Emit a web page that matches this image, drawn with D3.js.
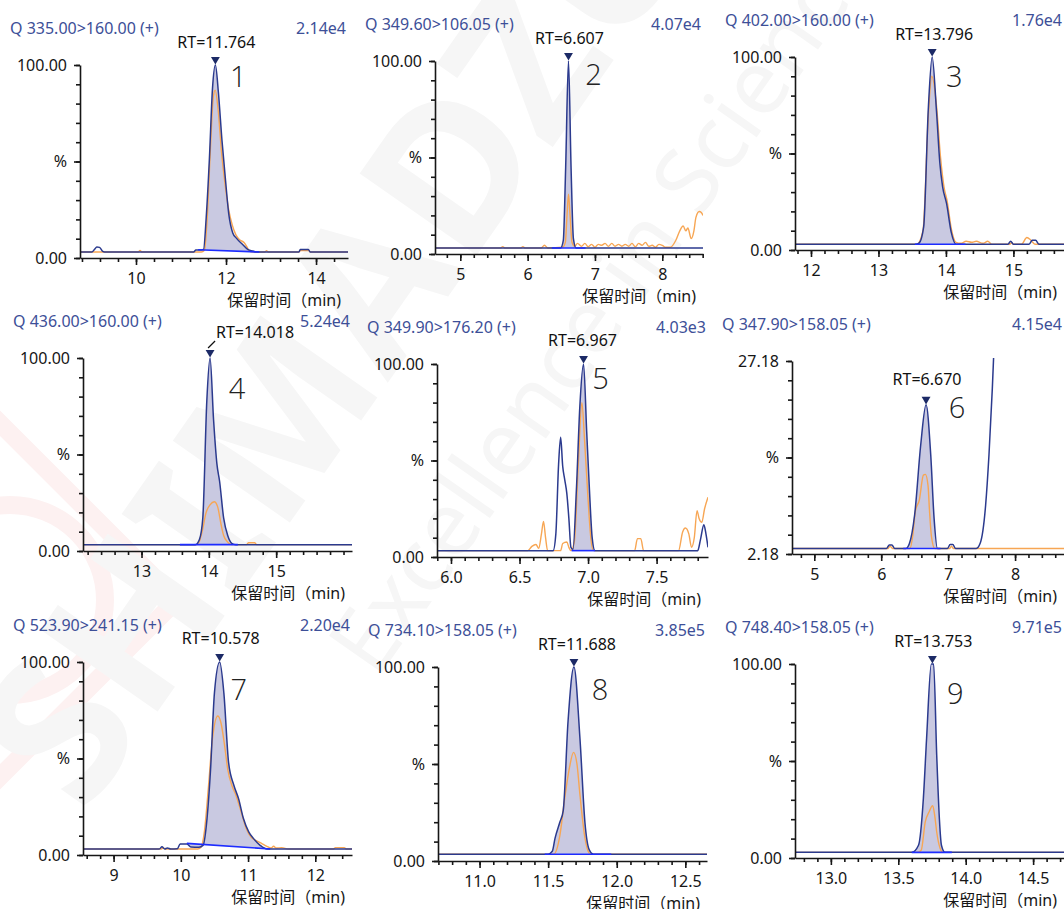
<!DOCTYPE html>
<html>
<head>
<meta charset="utf-8">
<script src="https://cdn.jsdelivr.net/npm/d3@7"></script>
<style>
  body { margin: 0; background: #fff; }
  svg { display: block; }
</style>
</head>
<body>
<svg id="chart" width="1064" height="909"></svg>
<script>
// MRM transitions, one chromatogram per compound
const transitions = [
  "Q 335.00>160.00 (+)", "Q 349.60>106.05 (+)", "Q 402.00>160.00 (+)",
  "Q 436.00>160.00 (+)", "Q 349.90>176.20 (+)", "Q 347.90>158.05 (+)",
  "Q 523.90>241.15 (+)", "Q 734.10>158.05 (+)", "Q 748.40>158.05 (+)"
];
const intensityScales = ["2.14e4", "4.07e4", "1.76e4", "5.24e4", "4.03e3", "4.15e4", "2.20e4", "3.85e5", "9.71e5"];
const retentionTimes = [11.764, 6.607, 13.796, 14.018, 6.967, 6.670, 10.578, 11.688, 13.753];
const peakNumbers = ["1", "2", "3", "4", "5", "6", "7", "8", "9"];

// retention-time window shown on each x axis (min)
const timeRanges = [
  [8.756, 14.71], [4.624, 8.605], [11.763, 15.75],
  [12.131, 16.126], [5.898, 7.875], [4.667, 8.731],
  [8.545, 12.546], [10.697, 12.658], [12.734, 14.729]
];
const timeTicks = [
  [10, 12, 14], [5, 6, 7, 8], [12, 13, 14, 15],
  [13, 14, 15], [6.0, 6.5, 7.0, 7.5], [5, 6, 7, 8],
  [9, 10, 11, 12], [11.0, 11.5, 12.0, 12.5], [13.0, 13.5, 14.0, 14.5]
];
const tickDecimals = [0, 0, 0, 0, 1, 0, 0, 1, 1];
const minorTickSteps = [0.4, 0.2, 0.2, 0.2, 0.1, 0.2, 0.2, 0.1, 0.1];
// relative intensity range of each y axis (%)
const percentRanges = [
  [0, 100], [0, 100], [0, 100],
  [0, 100], [0, 100], [2.18, 27.18],
  [0, 100], [0, 100], [0, 100]
];

// quantifier ion traces: [time (min), relative intensity (%)]
const quantTraces = [
  [[8.756,3.1],[9.02,3.1],[9.08,4.5],[9.13,5.7],[9.19,5.5],[9.26,3.4],[9.3,3.1],[11.28,3.1],[11.33,4.1],[11.45,4.2],[11.5,4.4],[11.56,21],[11.63,51],[11.7,88],[11.764,100],[11.83,86],[11.91,61],[11.99,40],[12.06,23],[12.15,13],[12.23,10.3],[12.37,7],[12.49,4.3],[12.6,3.6],[12.67,3.1],[13.62,3.1],[13.65,4.4],[13.83,4.4],[13.87,3.1],[14.71,3.1]],
  [[4.624,3.1],[6.49,3.1],[6.53,7],[6.565,45],[6.607,100],[6.645,45],[6.68,8],[6.72,3.1],[8.605,3.1]],
  [[11.763,3],[13.55,3],[13.6,3.5],[13.67,12],[13.74,74],[13.796,100],[13.86,72],[13.91,45],[13.95,33],[14.01,24],[14.08,9],[14.15,3],[14.92,3],[14.96,4.5],[15.0,3],[15.23,3],[15.28,5],[15.33,5],[15.38,3],[15.75,3]],
  [[12.131,3.3],[13.8,3.3],[13.86,6],[13.91,17],[13.97,78],[14.018,100],[14.07,68],[14.12,45],[14.16,36],[14.22,17],[14.28,8],[14.34,4],[14.4,3.3],[16.126,3.3]],
  [[5.898,3.3],[6.745,3.3],[6.765,12],[6.785,48],[6.8,62],[6.815,47],[6.83,40],[6.845,33],[6.86,20],[6.875,5],[6.89,4],[6.915,35],[6.94,78],[6.967,100],[6.99,65],[7.01,35],[7.03,10],[7.05,3.3],[7.8,3.3],[7.82,9],[7.845,16.7],[7.86,12],[7.875,5]],
  [[4.667,2.9],[6.08,2.9],[6.12,3.35],[6.16,3.35],[6.2,2.9],[6.37,2.9],[6.42,3.5],[6.5,7.3],[6.59,16.3],[6.67,21.5],[6.74,15],[6.79,6.8],[6.84,2.9],[6.99,2.9],[7.03,3.4],[7.07,3.4],[7.11,2.9],[7.42,2.9],[7.48,3.6],[7.56,8.5],[7.61,15],[7.66,23.6],[7.7,32],[7.75,45],[7.85,70],[8.2,100],[8.731,80]],
  [[8.545,3.1],[9.68,3.1],[9.72,4.3],[9.76,3.1],[9.8,3.6],[9.85,3.1],[9.95,3.3],[9.99,5.7],[10.09,5.7],[10.15,4.2],[10.27,4],[10.33,5],[10.39,19],[10.44,43],[10.5,84],[10.578,100],[10.64,84],[10.71,48],[10.79,36],[10.86,29],[10.93,19],[11.01,12],[11.08,8.6],[11.18,5],[11.28,3.1],[12.546,3.1]],
  [[10.697,3.5],[11.5,3.5],[11.53,5],[11.55,11.7],[11.585,20],[11.61,26],[11.645,72],[11.688,100],[11.732,63],[11.768,20],[11.8,5.7],[11.83,3.5],[12.658,3.5]],
  [[12.734,2.9],[13.6,2.9],[13.65,6.6],[13.686,30.7],[13.71,61.7],[13.745,100],[13.762,100],[13.785,53],[13.805,20],[13.82,6.6],[13.847,2.9],[14.729,2.9]]
];

// qualifier ion traces: [time (min), relative intensity (%)]
const qualTraces = [
  [[8.756,3.1],[10.05,3.1],[10.09,3.9],[10.13,3.1],[11.45,3.1],[11.52,4],[11.58,20],[11.65,55],[11.72,84],[11.76,87],[11.82,78],[11.9,55],[11.98,38],[12.06,25],[12.14,17],[12.22,12],[12.3,9.5],[12.4,8],[12.47,5.5],[12.52,3.6],[12.6,3.1],[12.86,3.1],[12.9,3.8],[12.94,3.1],[13.62,3.1],[13.65,3.8],[13.84,3.8],[13.87,3.1],[14.71,3.1]],
  [[4.624,3.1],[5.6,3.1],[5.63,3.8],[5.66,3.1],[5.9,3.1],[5.93,3.8],[5.96,3.1],[6.2,3.1],[6.25,4.5],[6.3,3.1],[6.52,3.5],[6.56,6],[6.585,20],[6.607,31],[6.63,20],[6.66,6],[6.7,4],[6.74,5.5],[6.8,4],[6.85,5.5],[6.9,3.8],[6.95,5],[7.0,3.5],[7.05,5],[7.1,4.5],[7.15,5.5],[7.2,4],[7.25,5.5],[7.3,4],[7.35,5],[7.4,4],[7.45,5],[7.5,4],[7.55,5.5],[7.6,3.8],[7.65,5.5],[7.7,4.5],[7.75,6],[7.8,4],[7.85,4.5],[7.9,3.5],[7.95,5],[8.0,4.5],[8.05,3.5],[8.12,3.5],[8.2,7],[8.26,12],[8.31,14.5],[8.35,12],[8.38,13.5],[8.43,8],[8.47,12],[8.5,19],[8.55,22],[8.58,21.5],[8.605,20]],
  [[11.763,3],[13.57,3],[13.66,10],[13.74,70],[13.79,90],[13.86,75],[13.92,48],[13.97,33],[14.02,25],[14.08,11],[14.15,4],[14.22,3.5],[14.3,4.5],[14.38,4],[14.45,4.5],[14.55,3.5],[14.62,4.5],[14.68,3],[14.95,3],[14.97,3.8],[15.0,3],[15.12,3],[15.2,6.5],[15.26,5],[15.32,3],[15.75,3]],
  [[12.131,3.3],[13.82,3.3],[13.86,5],[13.9,10],[13.96,20],[14.02,24],[14.08,25.5],[14.13,23],[14.18,14],[14.22,8],[14.27,5],[14.32,3.5],[14.36,3.3],[14.56,3.3],[14.59,4.3],[14.68,4.3],[14.71,3.3],[16.126,3.3]],
  [[5.898,3.3],[6.56,3.3],[6.59,5.5],[6.62,6.5],[6.64,4.5],[6.66,12],[6.675,18.4],[6.69,10],[6.705,3.3],[6.8,3.3],[6.815,7],[6.845,7.8],[6.86,5],[6.875,3.3],[6.9,8],[6.93,50],[6.955,80],[6.975,60],[7.0,30],[7.02,10],[7.04,3.3],[7.34,3.3],[7.36,9.5],[7.385,9.5],[7.405,3.3],[7.66,3.3],[7.69,13],[7.71,15],[7.735,12],[7.755,5],[7.775,10],[7.795,24],[7.81,20],[7.83,18],[7.85,25],[7.875,31]],
  [[4.667,2.9],[6.1,2.9],[6.13,3.2],[6.17,2.9],[6.43,2.9],[6.47,4.5],[6.51,7.7],[6.57,9.2],[6.63,12.4],[6.66,12.5],[6.7,11],[6.72,8],[6.75,4.5],[6.8,2.9],[7.02,2.9],[7.05,3.2],[7.08,2.9],[8.731,2.9]],
  [[8.545,3.1],[9.7,3.1],[9.74,3.6],[9.78,3.1],[10.25,3.1],[10.3,4],[10.35,12],[10.41,35],[10.47,60],[10.55,72],[10.6,68],[10.65,57],[10.7,44],[10.76,36],[10.82,31],[10.9,22],[10.97,14],[11.05,9],[11.12,7.5],[11.2,6],[11.28,4.5],[11.34,3.6],[11.38,4.5],[11.42,3.6],[11.5,3.8],[11.6,3.1],[12.27,3.1],[12.3,3.8],[12.43,3.8],[12.46,3.1],[12.546,3.1]],
  [[10.697,3.5],[11.54,3.5],[11.585,13],[11.62,32],[11.655,48],[11.685,56],[11.71,50],[11.732,34],[11.768,12],[11.8,4],[11.82,3.5],[12.658,3.5]],
  [[12.734,2.9],[13.64,2.9],[13.67,4],[13.7,18.6],[13.73,24],[13.755,27],[13.77,22],[13.785,13.4],[13.81,5],[13.83,2.9],[14.729,2.9]]
];

// integration: [start time, start level, end time, end level]
const integrationWindows = [
  [11.38, 4.3, 12.74, 3.1], [6.36, 3.1, 6.86, 3.1], [13.54, 3, 14.29, 3],
  [13.57, 3.3, 14.43, 3.3], [6.88, 3.3, 7.05, 3.3], [6.33, 2.9, 6.885, 2.9],
  [10.09, 6, 11.33, 3.1], [11.475, 3.5, 11.96, 3.5], [13.6, 2.9, 13.897, 2.9]
];

const axisTitle = "保留时间（min)";

// ---- layout of the 3x3 grid ----
const frames = [
  { l: 80,  r: 348,  t: 65,  b: 258, num: [23, 10],  rt: [1, -23] },
  { l: 435, r: 703,  t: 61,  b: 254, num: [25, 12],  rt: [1, -23] },
  { l: 795, r: 1064, t: 57,  b: 250, num: [22, 18],  rt: [2, -23] },
  { l: 83,  r: 352,  t: 358, b: 551, num: [27, 29],  rt: [45, -26], leader: true },
  { l: 437, r: 708,  t: 364, b: 557, num: [17, 13],  rt: [-1, -24] },
  { l: 792, r: 1064, t: 361, b: 554, num: [31, 2],   rt: [1, -26] },
  { l: 83,  r: 352,  t: 662, b: 855, num: [19, 26],  rt: [1, -24] },
  { l: 438, r: 707,  t: 667, b: 861, num: [26, 21],  rt: [3, -23] },
  { l: 795, r: 1064, t: 664, b: 858, num: [23, 28],  rt: [1, -23] }
];

const FONT = "'Noto Sans', 'Noto Sans CJK SC', sans-serif";
const C = {
  title: "#3d4f98",
  quant: "#2b3a8e",
  qual: "#f7a654",
  fill: "#c9c9e1",
  integ: "#1d2cff",
  axis: "#161616"
};

const svg = d3.select("#chart");
const defs = svg.append("defs");

// faint brand watermark behind the plots
const wm = svg.append("g").attr("pointer-events", "none");
wm.append("rect").attr("x", -125).attr("y", 475).attr("width", 250).attr("height", 250)
  .attr("transform", "rotate(45,0,600)")
  .attr("fill", "none").attr("stroke", "#fdf1f1").attr("stroke-width", 18);
wm.append("circle").attr("cx", 10).attr("cy", 600).attr("r", 95)
  .attr("fill", "none").attr("stroke", "#fdf1f1").attr("stroke-width", 18);
wm.append("text").attr("transform", "translate(330,330) rotate(-55)")
  .attr("text-anchor", "middle").attr("dominant-baseline", "central")
  .attr("font-family", FONT).attr("font-weight", 700).attr("font-size", 200)
  .attr("fill", "#f6f6f6").text("SHIMADZU");
wm.append("text").attr("transform", "translate(600,300) rotate(-55)")
  .attr("text-anchor", "middle").attr("dominant-baseline", "central")
  .attr("font-family", FONT).attr("font-size", 90)
  .attr("fill", "#f6f6f6").text("Excellence in Science");

function valueAt(trace, t) {
  for (let k = 1; k < trace.length; k++) {
    const a = trace[k - 1], b = trace[k];
    if (t >= a[0] && t <= b[0]) {
      return a[1] + (b[1] - a[1]) * (t - a[0]) / (b[0] - a[0]);
    }
  }
  return trace[trace.length - 1][1];
}

transitions.forEach((title, i) => {
  const f = frames[i];
  const x = d3.scaleLinear().domain(timeRanges[i]).range([f.l, f.r]);
  const y = d3.scaleLinear().domain(percentRanges[i]).range([f.b, f.t]);
  const g = svg.append("g");

  // header
  g.append("text").attr("x", f.l - 70).attr("y", f.t - 37)
    .attr("dominant-baseline", "central").attr("font-family", FONT)
    .attr("font-size", 16).attr("fill", C.title).text(title);
  g.append("text").attr("x", f.r - 2).attr("y", f.t - 37)
    .attr("text-anchor", "end").attr("dominant-baseline", "central")
    .attr("font-family", FONT).attr("font-size", 16).attr("fill", C.title)
    .text(intensityScales[i]);

  // plotting area
  defs.append("clipPath").attr("id", "clip" + i).append("rect")
    .attr("x", f.l).attr("y", f.t - 3).attr("width", f.r - f.l).attr("height", f.b - f.t + 3);
  const plot = g.append("g").attr("clip-path", `url(#clip${i})`);

  const quant = quantTraces[i];
  const [t0, v0, t1, v1] = integrationWindows[i];
  const baseAt = t => v0 + (v1 - v0) * (t - t0) / (t1 - t0);
  const peakPts = [[t0, valueAt(quant, t0)]]
    .concat(quant.filter(p => p[0] > t0 && p[0] < t1))
    .concat([[t1, valueAt(quant, t1)]]);

  plot.append("path").datum(peakPts)
    .attr("d", d3.area().x(d => x(d[0])).y0(d => y(baseAt(d[0]))).y1(d => y(d[1]))
      .curve(d3.curveMonotoneX))
    .attr("fill", C.fill);

  const line = d3.line().x(d => x(d[0])).y(d => y(d[1])).curve(d3.curveMonotoneX);
  plot.append("path").datum(qualTraces[i]).attr("d", line)
    .attr("fill", "none").attr("stroke", C.qual).attr("stroke-width", 1.4);
  plot.append("path").datum(quant).attr("d", line)
    .attr("fill", "none").attr("stroke", C.quant).attr("stroke-width", 1.5);
  plot.append("path").datum([[t0, v0], [t1, v1]])
    .attr("d", d3.line().x(d => x(d[0])).y(d => y(d[1])))
    .attr("stroke", C.integ).attr("stroke-width", 1.6);

  // axes
  const fmtX = d3.format("." + tickDecimals[i] + "f");
  const [d0, d1] = timeRanges[i];
  const step = minorTickSteps[i];
  const minorX = d3.range(Math.ceil(d0 / step - 1e-9), Math.floor(d1 / step + 1e-9) + 1)
    .map(k => +(k * step).toFixed(3));
  const xMinor = g.append("g").attr("transform", `translate(0,${f.b})`)
    .call(d3.axisBottom(x).tickValues(minorX).tickFormat("").tickSize(4).tickSizeOuter(0));
  xMinor.select(".domain").remove();
  const xAxis = g.append("g").attr("transform", `translate(0,${f.b})`)
    .call(d3.axisBottom(x).tickValues(timeTicks[i]).tickFormat(fmtX)
      .tickSize(7).tickPadding(8).tickSizeOuter(0));

  const [p0, p1] = percentRanges[i];
  const fmtY = d3.format(".2f");
  const yMinor = g.append("g").attr("transform", `translate(${f.l},0)`)
    .call(d3.axisLeft(y).tickValues(d3.range(11).map(k => p0 + k * (p1 - p0) / 10))
      .tickFormat("").tickSize(4).tickSizeOuter(0));
  yMinor.select(".domain").remove();
  const yAxis = g.append("g").attr("transform", `translate(${f.l},0)`)
    .call(d3.axisLeft(y).tickValues([p0, (p0 + p1) / 2, p1])
      .tickFormat((d, k) => k === 1 ? "%" : fmtY(d))
      .tickSize(6).tickPadding(7).tickSizeOuter(0));

  [xAxis, yAxis, xMinor, yMinor].forEach(a => {
    a.selectAll("path,line").attr("stroke", C.axis).attr("stroke-width", 1.6);
    a.selectAll("text").attr("font-family", FONT).attr("font-size", 16).attr("fill", C.axis);
  });

  g.append("text").attr("x", f.r - 7).attr("y", f.b + 42)
    .attr("text-anchor", "end").attr("dominant-baseline", "central")
    .attr("font-family", FONT).attr("font-size", 16).attr("fill", C.axis)
    .text(axisTitle);

  // peak annotation
  const rt = retentionTimes[i];
  const peakVal = d3.max(peakPts, d => d[1]);
  const px = x(rt), py = y(peakVal);
  g.append("path")
    .attr("d", d3.symbol(d3.symbolTriangle, 34)())
    .attr("transform", `translate(${px},${py - 5.5}) rotate(180)`)
    .attr("fill", "#1c2a66");
  g.append("text").attr("x", px + f.rt[0]).attr("y", py + f.rt[1])
    .attr("text-anchor", "middle").attr("dominant-baseline", "central")
    .attr("font-family", FONT).attr("font-size", 16).attr("fill", "#111")
    .text("RT=" + d3.format(".3f")(rt));
  if (f.leader) {
    g.append("line").attr("x1", px - 2).attr("y1", py - 10).attr("x2", px + 5).attr("y2", py - 17)
      .attr("stroke", "#111").attr("stroke-width", 1.2);
  }
  g.append("text").attr("x", px + f.num[0]).attr("y", py + f.num[1])
    .attr("text-anchor", "middle").attr("dominant-baseline", "central")
    .attr("font-family", "'Open Sans', 'Noto Sans', sans-serif").attr("font-weight", 300)
    .attr("font-size", 29).attr("fill", "#222").text(peakNumbers[i]);
});
</script>
</body>
</html>
